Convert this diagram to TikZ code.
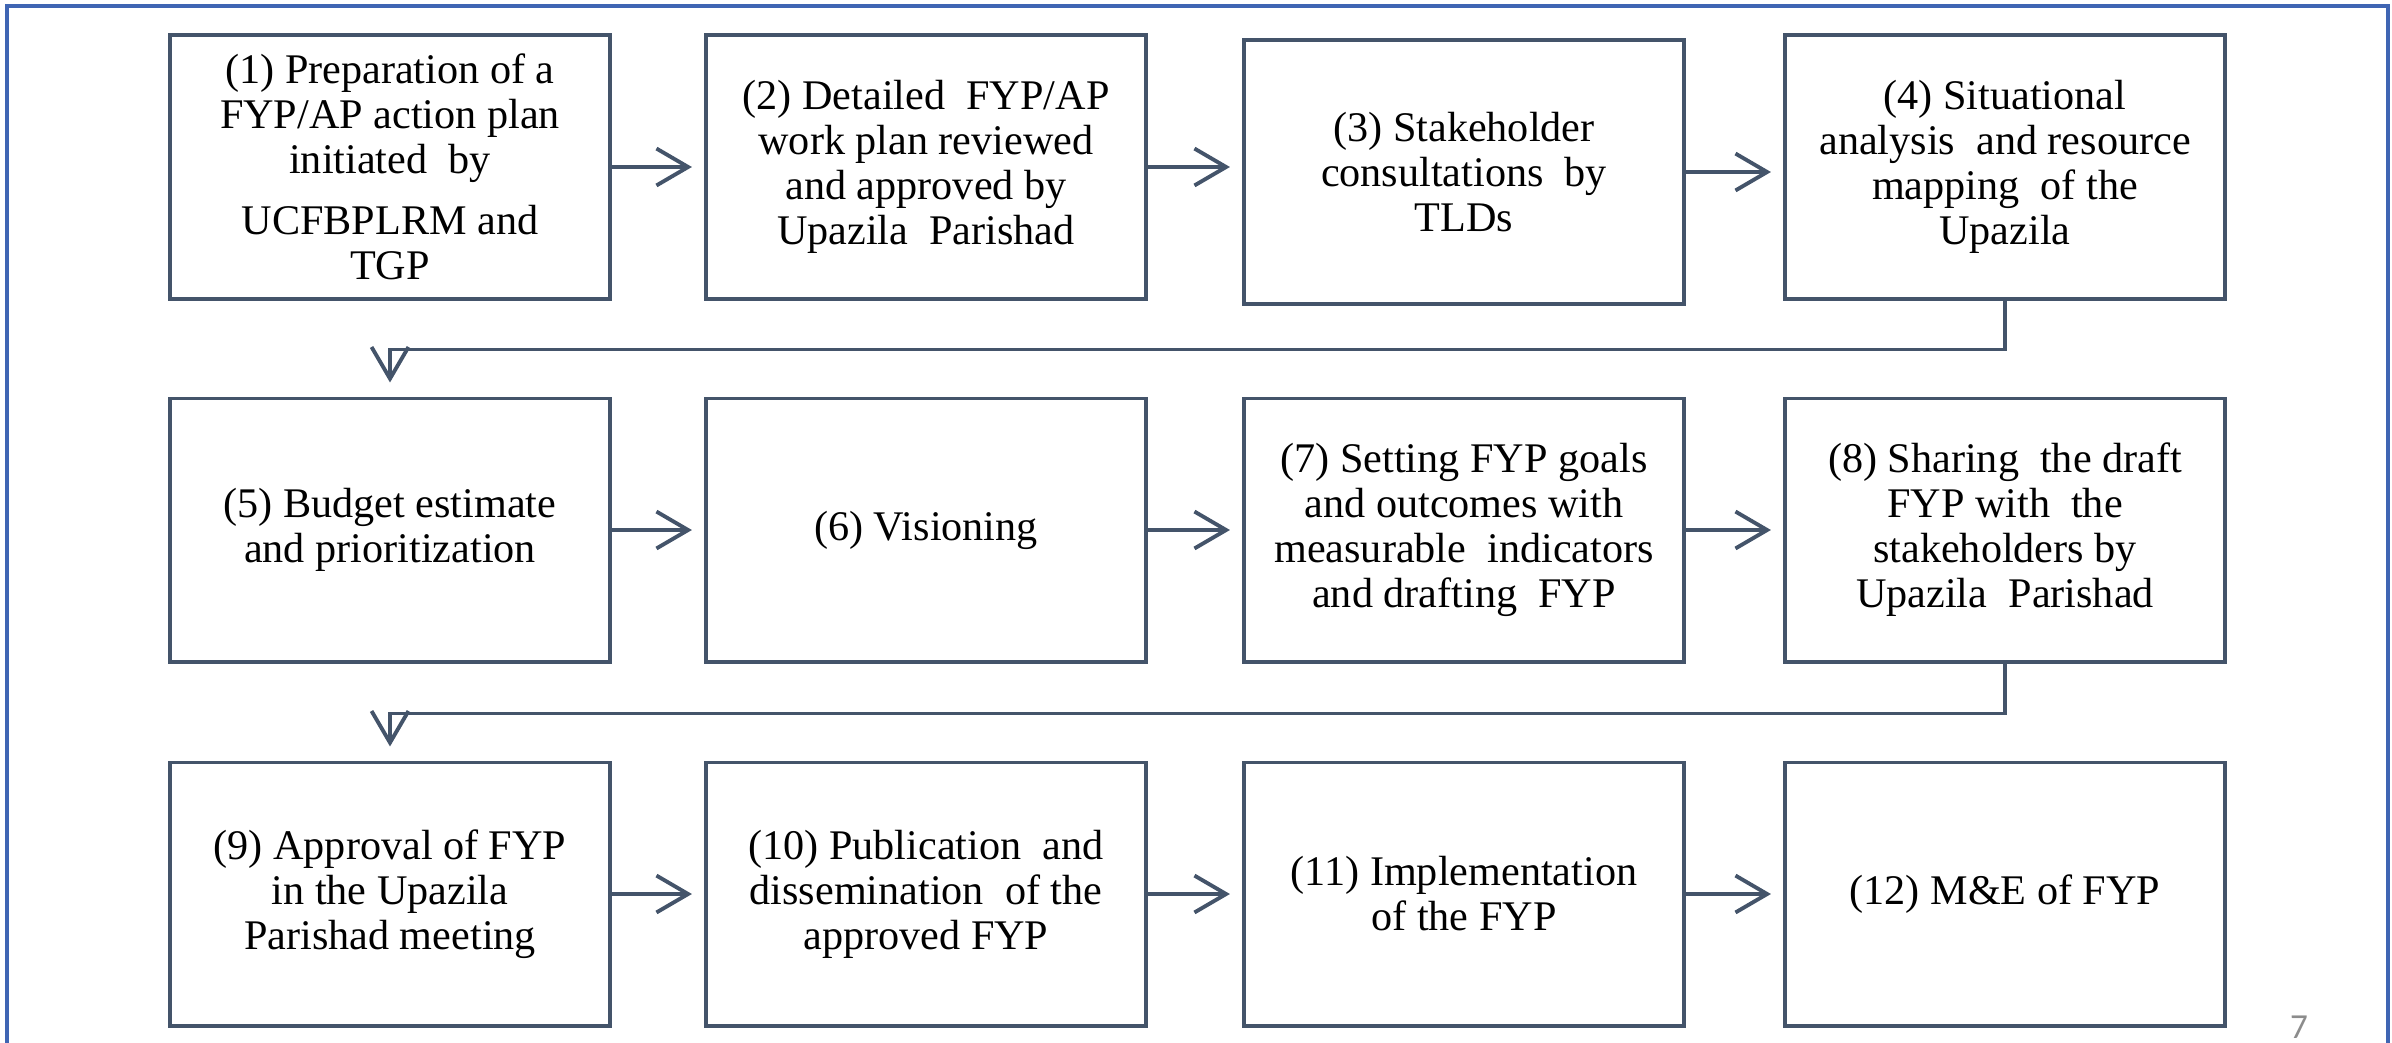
\documentclass[tikz,border=0pt]{standalone}
\usepackage{fontspec}
\setmainfont{Liberation Serif}
\newfontfamily\pagefont{Carlito}
\usetikzlibrary{arrows.meta}
\definecolor{boxline}{HTML}{44546A}
\definecolor{frameblue}{HTML}{3F65B3}
\definecolor{pagegray}{HTML}{8C8C8C}

\begin{document}
\begin{tikzpicture}[x=0.01cm,y=-0.01cm,>={Straight Barb[length=9pt,width=10.5pt]},
  stepbox/.style={draw=boxline,line width=1.1pt,minimum width=4.4cm,minimum height=2.63cm,
    inner sep=0pt,align=center,font=\fontsize{12}{12.8}\selectfont},
  flow/.style={->,draw=boxline,line width=1.1pt}]
\useasboundingbox (0,0) rectangle (2392,1042);
\draw[frameblue,line width=0.9pt] (7,1060) -- (7,6) -- (2388,6) -- (2388,1060);
% row 1
\node[stepbox] (s1) at (390,167) {(1) Preparation of a\\FYP/AP action plan\\initiated\ \ by\\[4.5pt]UCFBPLRM and\\TGP};
\node[stepbox] (s2) at (926,167) {(2) Detailed\ \ FYP/AP\\work plan reviewed\\and approved by\\Upazila\ \ Parishad};
\node[stepbox] (s3) at (1464,172) {(3) Stakeholder\\consultations\ \ by\\TLDs};
\node[stepbox] (s4) at (2005,167) {(4) Situational\\analysis\ \ and resource\\mapping\ \ of the\\Upazila};
% row 2
\node[stepbox] (s5) at (390,530) {(5) Budget estimate\\and prioritization};
\node[stepbox] (s6) at (926,530) {(6) Visioning};
\node[stepbox] (s7) at (1464,530) {(7) Setting FYP goals\\and outcomes with\\measurable\ \ indicators\\and drafting\ \ FYP};
\node[stepbox] (s8) at (2005,530) {(8) Sharing\ \ the draft\\FYP with\ \ the\\stakeholders by\\Upazila\ \ Parishad};
% row 3
\node[stepbox] (s9) at (390,894) {(9) Approval of FYP\\in the Upazila\\Parishad meeting};
\node[stepbox] (s10) at (926,894) {(10) Publication\ \ and\\dissemination\ \ of the\\approved FYP};
\node[stepbox] (s11) at (1464,894) {(11) Implementation\\of the FYP};
\node[stepbox] (s12) at (2005,894) {(12) M\&E of FYP};
% arrows
\foreach \a/\b in {s1/s2,s2/s3,s3/s4,s5/s6,s6/s7,s7/s8,s9/s10,s10/s11,s11/s12}
  \draw[flow] (\a.east) -- ([xshift=-0.12cm]\a.east -| \b.west);
\draw[flow] (s4.south) -- ++(0,49) -| ([yshift=0.14cm]s5.north);
\draw[flow] (s8.south) -- ++(0,50) -| ([yshift=0.14cm]s9.north);
\node[text=pagegray,font=\pagefont\fontsize{10}{10}\selectfont,anchor=base,inner sep=0pt] (pg) at (2299,1038) {7};
\end{tikzpicture}
\end{document}
